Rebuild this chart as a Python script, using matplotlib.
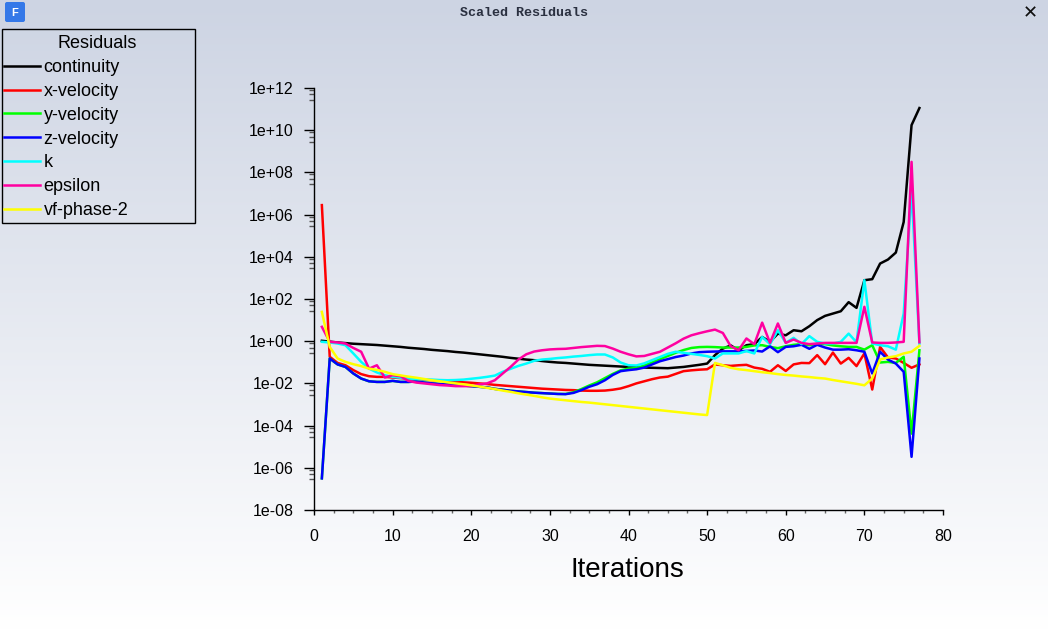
import numpy as np
import matplotlib
matplotlib.use("Agg")
import matplotlib.pyplot as plt
from matplotlib.patches import FancyBboxPatch, Rectangle
from matplotlib.ticker import FixedLocator, FuncFormatter

plt.rcParams['font.family'] = ['Liberation Sans', 'DejaVu Sans']

title = "Scaled Residuals"
legend_title = "Residuals"
x_label = "Iterations"
series_names = ["continuity", "x-velocity", "y-velocity", "z-velocity", "k", "epsilon", "vf-phase-2"]
series_colors = ["#000000", "#ff0000", "#00ff00", "#0000ff", "#00ffff", "#ff00a0", "#ffff00"]
iterations = list(range(1, 78))

# residuals, as decimal exponents (log10 of the residual)
continuity = [.02, -.02, -.06, -.09, -.12, -.14, -.16, -.18, -.21, -.24,
              -.27, -.31, -.34, -.37, -.41, -.44, -.47, -.51, -.54, -.58,
              -.62, -.66, -.70, -.74, -.79, -.83, -.87, -.90, -.94, -.98,
              -1.01, -1.03, -1.06, -1.09, -1.12, -1.14, -1.16, -1.18, -1.2, -1.22,
              -1.23, -1.25, -1.26, -1.27, -1.28, -1.25, -1.22, -1.17, -1.12, -1.06,
              -.66, -.35, -.2, -.43, -.19, -.14, .2, -.03, .36, .28,
              .52, .47, .71, 1.0, 1.2, 1.31, 1.42, 1.85, 1.58, 2.89,
              2.94, 3.68, 3.87, 4.2, 5.65, 10.24, 11.05]
x_velocity = [6.45, -.74, -1.03, -1.14, -1.37, -1.56, -1.66, -1.69, -1.69, -1.72,
              -1.75, -1.78, -1.8, -1.83, -1.85, -1.87, -1.9, -1.92, -1.95, -1.97,
              -2.0, -2.03, -2.07, -2.1, -2.13, -2.16, -2.19, -2.22, -2.25, -2.27,
              -2.29, -2.31, -2.32, -2.34, -2.35, -2.35, -2.34, -2.3, -2.24, -2.13,
              -2.0, -1.9, -1.8, -1.72, -1.68, -1.55, -1.42, -1.38, -1.35, -1.33,
              -1.1, -1.14, -1.17, -1.14, -1.12, -1.25, -1.31, -1.45, -1.14, -1.41,
              -1.1, -1.03, -1.04, -.66, -1.09, -.54, -1.06, -.79, -1.18, -.58,
              -2.29, -.27, -.77, -.82, -1.03, -1.26, -1.1]
y_velocity = [-6.5, -.82, -1.1, -1.22, -1.53, -1.77, -1.9, -1.93, -1.93, -1.88,
              -1.93, -1.93, -1.91, -1.96, -2.0, -2.03, -2.05, -2.08, -2.1, -2.13,
              -2.16, -2.19, -2.26, -2.3, -2.35, -2.38, -2.41, -2.44, -2.46, -2.48,
              -2.5, -2.5, -2.42, -2.27, -2.1, -1.95, -1.75, -1.55, -1.38, -1.3,
              -1.27, -1.15, -1.0, -.85, -.7, -.55, -.42, -.32, -.28, -.27,
              -.28, -.3, -.3, -.3, -.27, -.2, -.19, -.27, -.33, -.24,
              -.17, -.14, -.19, -.13, -.14, -.2, -.24, -.27, -.27, -.4,
              -.19, -1.01, -.98, -1.03, -.74, -4.38, -.43]
z_velocity = [-6.5, -.82, -1.1, -1.22, -1.53, -1.77, -1.9, -1.93, -1.93, -1.88,
              -1.93, -1.93, -1.91, -1.96, -2.0, -2.03, -2.05, -2.08, -2.1, -2.13,
              -2.16, -2.19, -2.26, -2.3, -2.35, -2.38, -2.41, -2.44, -2.46, -2.48,
              -2.5, -2.51, -2.45, -2.32, -2.16, -2.04, -1.85, -1.6, -1.42, -1.37,
              -1.33, -1.25, -1.1, -.95, -.85, -.75, -.68, -.58, -.52, -.5,
              -.49, -.48, -.48, -.48, -.46, -.44, -.49, -.24, -.52, -.27,
              -.24, -.17, -.36, -.17, -.3, -.4, -.4, -.38, -.43, -.5,
              -1.53, -.5, -.87, -1.06, -1.45, -5.48, -.82]
k = [-.03, -.06, -.11, -.19, -.58, -.98, -1.3, -1.48, -1.61, -1.69,
     -1.73, -1.77, -1.79, -1.81, -1.82, -1.84, -1.85, -1.84, -1.82, -1.78,
     -1.74, -1.69, -1.63, -1.45, -1.31, -1.17, -1.06, -.93, -.87, -.84,
     -.8, -.77, -.73, -.7, -.66, -.63, -.63, -.77, -1.01, -1.14,
     -1.15, -1.05, -.9, -.75, -.6, -.5, -.55, -.6, -.65, -.71,
     -.82, -.58, -.58, -.58, -.47, -.58, .2, -.14, .52, -.08,
     .16, -.14, .24, -.03, -.11, -.11, -.03, .36, -.05, 2.89,
     -.11, -.19, -.24, -.4, 1.31, 7.15, -.11]
epsilon = [.68, -.03, -.06, -.11, -.32, -.5, -1.3, -1.14, -1.72, -1.61,
           -1.66, -1.88, -1.96, -2.0, -2.04, -2.08, -2.1, -2.13, -2.13, -2.13,
           -2.05, -2.0, -1.85, -1.53, -1.22, -.87, -.62, -.49, -.43, -.39,
           -.37, -.36, -.32, -.28, -.25, -.22, -.23, -.35, -.5, -.62,
           -.72, -.7, -.6, -.5, -.3, -.1, .12, .28, .38, .47,
           .55, .39, -.24, -.43, .13, -.14, .88, -.08, .84, -.08,
           .08, -.08, -.14, -.11, -.08, -.08, -.08, -.08, -.08, 1.63,
           -.06, -.08, -.08, -.06, -.03, 8.5, -.05]
vf_phase_2 = [1.39, -.27, -.82, -.98, -1.09, -1.18, -1.3, -1.36, -1.45, -1.56,
              -1.62, -1.68, -1.73, -1.79, -1.85, -1.9, -1.95, -2.0, -2.04, -2.09,
              -2.15, -2.21, -2.27, -2.34, -2.4, -2.47, -2.53, -2.59, -2.66, -2.72,
              -2.76, -2.8, -2.84, -2.88, -2.91, -2.95, -2.99, -3.03, -3.07, -3.11,
              -3.15, -3.19, -3.23, -3.27, -3.31, -3.35, -3.39, -3.43, -3.47, -3.5,
              -1.03, -1.14, -1.26, -1.33, -1.37, -1.42, -1.47, -1.51, -1.56, -1.6,
              -1.63, -1.67, -1.7, -1.74, -1.77, -1.84, -1.9, -1.96, -2.02, -2.09,
              -1.77, -.87, -.77, -.71, -.58, -.5, -.22]
series_values = [continuity, x_velocity, y_velocity, z_velocity, k, epsilon, vf_phase_2]

x_ticks = [0, 10, 20, 30, 40, 50, 60, 70, 80]
x_minor_ticks = [v * 2.5 for v in range(33)]
y_major_exponents = [12, 10, 8, 6, 4, 2, 0, -2, -4, -6, -8]
y_minor_factors = [0.8, 0.5, 0.28]

W, H = 1048, 630
fig = plt.figure(figsize=(W / 100, H / 100), dpi=100)

# window background gradient
bg = fig.add_axes([0, 0, 1, 1], zorder=0)
bg.axis("off")
top = np.array([205, 212, 227]) / 255
bottom = np.array([255, 255, 255]) / 255
t = np.linspace(0, 1, H)[:, None, None]
bg.imshow(top * (1 - t) + bottom * t, aspect="auto", extent=[0, W, H, 0])
bg.set_xlim(0, W)
bg.set_ylim(H, 0)

# application icon and close mark
bg.add_patch(FancyBboxPatch((5, 2), 20, 20, boxstyle="round,pad=0,rounding_size=2",
                            fc="#3478e8", ec="none"))
bg.text(15, 12.5, "F", color="white", fontsize=8, fontweight="bold", ha="center", va="center")
bg.text(1030, 13, "\u2715", color="#101010", fontsize=13, ha="center", va="center",
        family=["DejaVu Sans"], fontweight="bold")
bg.text(524, 13, title, color="#2a3040", fontsize=9.6, fontweight="bold",
        family=["Liberation Mono", "DejaVu Sans Mono"], ha="center", va="center")
# legend frame
bg.add_patch(Rectangle((1.5, 28.5), 193, 194, fc="none", ec="black", lw=1.0))

ax = fig.add_axes([314 / W, 1 - 510 / H, (943 - 314) / W, (510 - 88) / H], zorder=1)
ax.patch.set_alpha(0)
handles = []
for name, color, values in zip(series_names, series_colors, series_values):
    h, = ax.semilogy(iterations, 10.0 ** np.array(values), color=color, lw=1.8,
                     label=name, solid_joinstyle="round", clip_on=False)
    handles.append(h)

ax.set_xlim(0, 80)
ax.set_ylim(1e-8, 1e12)
for s in ("top", "right"):
    ax.spines[s].set_visible(False)
for s in ("left", "bottom"):
    ax.spines[s].set_linewidth(1.0)

ax.xaxis.set_major_locator(FixedLocator(x_ticks))
ax.xaxis.set_minor_locator(FixedLocator(x_minor_ticks))
majors = [10.0 ** e for e in y_major_exponents]
ax.yaxis.set_major_locator(FixedLocator(majors))
ax.yaxis.set_minor_locator(FixedLocator([m * f for m in majors[:-1] for f in y_minor_factors]))
ax.yaxis.set_major_formatter(FuncFormatter(lambda v, _: f"{v:.0e}"))
ax.yaxis.set_minor_formatter(FuncFormatter(lambda v, _: ""))
ax.tick_params(axis="x", which="major", length=3.8, width=1.0, pad=10, labelsize=11.5)
ax.tick_params(axis="x", which="minor", length=2.5, width=1.0, color="#666666")
ax.tick_params(axis="y", which="major", length=7.2, width=1.0, pad=7.5, labelsize=11.5)
ax.tick_params(axis="y", which="minor", length=3.6, width=1.0, color="#555555")
ax.set_xlabel(x_label, fontsize=20)
ax.xaxis.set_label_coords(0.499, -0.112)

leg = fig.legend(handles, series_names, title=legend_title, loc="upper left",
                 bbox_to_anchor=(0.3 / W, 1 - 31.5 / H), bbox_transform=fig.transFigure,
                 borderaxespad=0, fontsize=13, title_fontsize=13,
                 frameon=False,
                 handlelength=2.0, handletextpad=0.2, labelspacing=0.38,
                 borderpad=0.2, alignment="left")
for line in leg.get_lines():
    line.set_linewidth(1.8)
leg.get_title().set_position((54, 0))

fig.savefig("out.png", dpi=100)
